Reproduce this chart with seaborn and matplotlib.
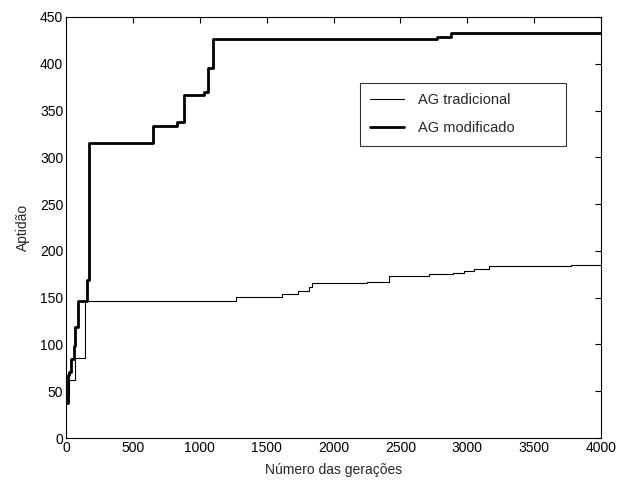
import matplotlib
matplotlib.use("Agg")
import matplotlib.pyplot as plt
import numpy as np
import pandas as pd
import seaborn as sns

# AG tradicional (thin line): generation where each step starts, fitness value
gen_trad = [0, 25, 65, 140, 1272, 1613, 1738, 1813, 1838, 2249, 2411, 2710, 2893, 2972, 3052, 3159, 3775, 4000]
apt_trad = [45, 62, 85, 146, 151, 154, 157, 161, 166, 167, 173, 175, 176, 178, 181, 184, 185, 185]

# AG modificado (thick line)
gen_mod = [5, 12, 25, 40, 57, 70, 90, 157, 174, 648, 828, 883, 1032, 1065, 1102, 2200, 2770, 2880, 4000]
apt_mod = [37, 67, 71, 84, 98, 119, 146, 169, 315, 334, 338, 367, 370, 395, 426, 427, 429, 433, 433]

labels = ["AG tradicional", "AG modificado"]
x_ticks = [0, 500, 1000, 1500, 2000, 2500, 3000, 3500, 4000]
y_ticks = [0, 50, 100, 150, 200, 250, 300, 350, 400, 450]

df = pd.concat([
    pd.DataFrame({"gen": gen_trad, "apt": apt_trad, "serie": labels[0]}),
    pd.DataFrame({"gen": gen_mod, "apt": apt_mod, "serie": labels[1]}),
])

sns.set_style("white")
plt.rcParams["font.family"] = ["Liberation Sans", "DejaVu Sans"]

fig = plt.figure(figsize=(6.19, 4.8), dpi=100)
ax = fig.add_axes([0.1066, 0.0875, 0.8645, 0.8771])

sns.lineplot(data=df, x="gen", y="apt", hue="serie", size="serie",
             sizes={labels[0]: 0.8, labels[1]: 2.0},
             palette={labels[0]: "black", labels[1]: "black"},
             drawstyle="steps-post", estimator=None, sort=True, ax=ax)

ax.set_xlim(0, 4000)
ax.set_ylim(0, 450)
ax.set_xticks(x_ticks)
ax.set_yticks(y_ticks)
ax.tick_params(direction="in", top=True, right=True, length=4, width=0.8,
               labelsize=10, colors="black", pad=2)
for s in ax.spines.values():
    s.set_visible(True)
    s.set_color("black")
    s.set_linewidth(0.8)

ax.set_xlabel("Número das gerações", fontsize=10, labelpad=6)
ax.set_ylabel("Aptidão", fontsize=10, labelpad=7)

leg = ax.legend(loc="upper left", bbox_to_anchor=(0.5495, 0.692, 0.3845, 0.152),
                mode="expand", frameon=True, fancybox=False, fontsize=10.5,
                handlelength=2.3, handletextpad=1.0, labelspacing=1.0,
                borderpad=0.7, borderaxespad=0)
leg.get_frame().set_edgecolor("black")
leg.get_frame().set_linewidth(0.8)
leg.set_title(None)

fig.savefig("out.png", dpi=100, facecolor="white")
